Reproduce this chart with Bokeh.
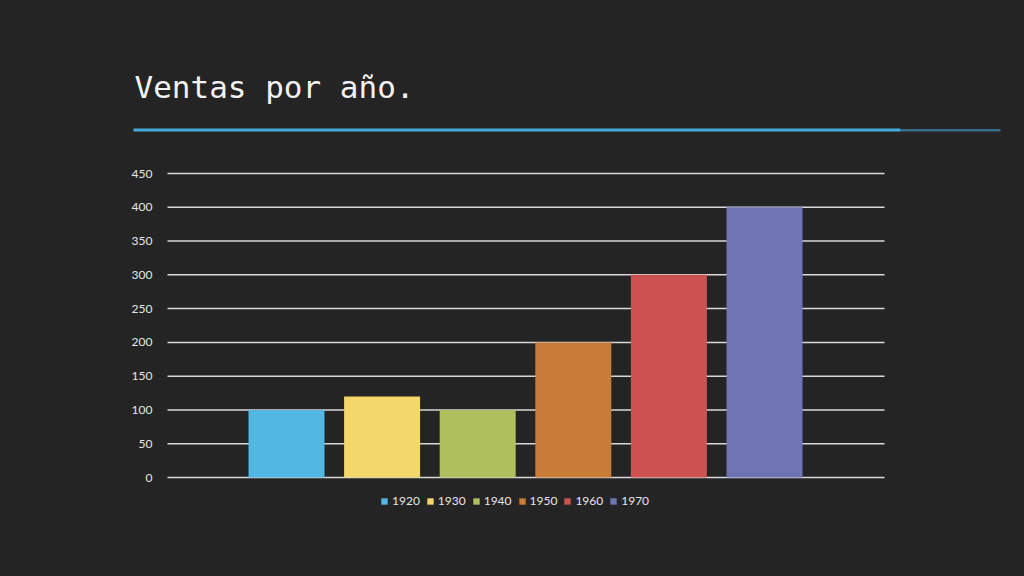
from bokeh.plotting import figure
from bokeh.models import (ColumnDataSource, Range1d, FixedTicker, LinearAxis,
                          Legend, LegendItem, Label, BoxAnnotation)
from bokeh.embed import file_html
from bokeh.resources import INLINE

# ---- data ----
years = ["1920", "1930", "1940", "1950", "1960", "1970"]
sales = [100, 120, 100, 200, 300, 400]
colors = ["#52b8e3", "#f3d76a", "#b0bf5d", "#c77d37", "#cd5352", "#6e74b4"]
y_ticks = [0, 50, 100, 150, 200, 250, 300, 350, 400, 450]
title_text = "Ventas por año."

BG = "#242424"
W, H = 1024, 576

# pixel <-> data helpers (layout only)
X0PX, XSTEP = 286.0, 95.6
Y0PX, YSCALE = 477.0, 304.0 / 450.0
def px2x(px):
    return (px - X0PX) / XSTEP
def py2y(py):
    return (Y0PX - py) / YSCALE

x_idx = list(range(len(years)))
src = ColumnDataSource(dict(x=x_idx, year=years, sales=sales, color=colors))

p = figure(width=W, height=H, output_backend="svg", toolbar_location=None,
           x_range=Range1d(px2x(0), px2x(W)), y_range=Range1d(py2y(H), py2y(0)),
           x_axis_location=None, y_axis_location=None,
           min_border=0)
p.background_fill_color = BG
p.border_fill_color = BG
p.outline_line_color = None
p.grid.visible = False

# horizontal grid lines across the chart area
chart_l, chart_r = px2x(167), px2x(884)
p.segment(x0=[chart_l] * len(y_ticks), x1=[chart_r] * len(y_ticks),
          y0=y_ticks, y1=y_ticks, line_color="#d8d8d8", line_width=1.5)

r = p.vbar(x="x", top="sales", bottom=0, width=0.795, fill_color="color",
           line_color=None, source=src)

# y axis placed at chart left edge
yax = LinearAxis(ticker=FixedTicker(ticks=y_ticks), fixed_location=chart_l)
yax.axis_line_color = None
yax.major_tick_line_color = None
yax.minor_tick_line_color = None
yax.major_label_text_color = "#e6e6e6"
yax.major_label_text_font = "Lato"
yax.major_label_text_font_size = "12px"
yax.major_label_standoff = 9
p.add_layout(yax, "left")

# legend
items = [LegendItem(label=years[i], renderers=[r], index=i) for i in range(len(years))]
legend = Legend(items=items, orientation="horizontal", location=(380, 68),
                background_fill_alpha=0, border_line_color=None,
                label_text_color="#e6e6e6", label_text_font="Lato",
                label_text_font_size="12px", glyph_width=8, glyph_height=8,
                label_height=12, label_standoff=4, spacing=6,
                padding=0, margin=0)
p.add_layout(legend, "center")

# title and chalk line
p.add_layout(Label(x=px2x(134), y=py2y(86), text=title_text,
                   text_font="DejaVu Sans Mono", text_font_size="31px",
                   text_color="#f2f2f2", text_baseline="alphabetic"))
p.add_layout(BoxAnnotation(left=px2x(133), right=px2x(900), bottom=py2y(131), top=py2y(128),
                           fill_color="#45abdd", fill_alpha=1, line_color=None))
p.add_layout(BoxAnnotation(left=px2x(900), right=px2x(1000), bottom=py2y(131), top=py2y(128.5),
                           fill_color="#45abdd", fill_alpha=0.55, line_color=None))

html = file_html(p, INLINE)
html = html.replace("<head>", "<head><style>html,body{background:#242424;margin:0;}</style>", 1)
open("out.html", "w").write(html)
